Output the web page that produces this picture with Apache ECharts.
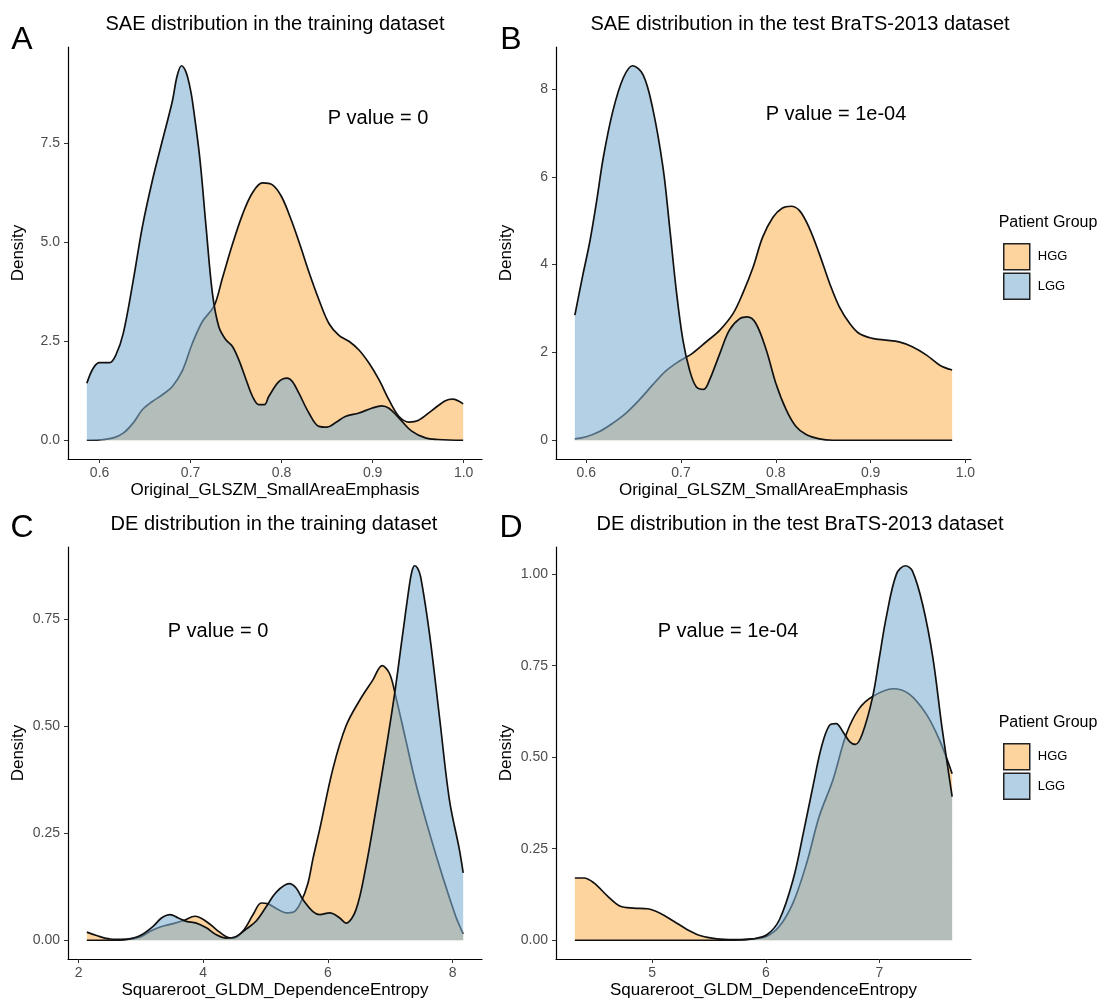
<!DOCTYPE html>
<html>
<head>
<meta charset="utf-8">
<title>SAE / DE density</title>
<script src="https://cdn.jsdelivr.net/npm/echarts@6/dist/echarts.min.js"></script>
<style>
  body { margin: 0; background: #fff; }
  #main { width: 1105px; height: 1003px; }
</style>
</head>
<body>
<div id="main"></div>
<script type="text/javascript">
// ---- data ----
// A: SAE, training dataset
var saeTrainX_HGG = [0.586, 0.600, 0.615, 0.626, 0.637, 0.647, 0.658, 0.669, 0.680, 0.691, 0.702, 0.713, 0.726, 0.735, 0.746, 0.757, 0.768, 0.779, 0.790, 0.800, 0.810, 0.820, 0.830, 0.841, 0.852, 0.863, 0.874, 0.885, 0.896, 0.907, 0.918, 0.929, 0.940, 0.950, 0.965, 0.980, 0.988, 0.9995];
var saeTrainY_HGG = [0, 0.01, 0.06, 0.18, 0.44, 0.77, 0.98, 1.15, 1.36, 1.76, 2.45, 3.00, 3.40, 4.10, 4.95, 5.70, 6.25, 6.50, 6.45, 6.15, 5.60, 4.95, 4.25, 3.55, 2.95, 2.65, 2.50, 2.28, 1.95, 1.53, 1.02, 0.60, 0.46, 0.50, 0.75, 1.00, 1.04, 0.92];
var saeTrainX_LGG = [0.586, 0.593, 0.600, 0.611, 0.618, 0.626, 0.637, 0.647, 0.658, 0.669, 0.680, 0.685, 0.690, 0.695, 0.699, 0.702, 0.710, 0.717, 0.724, 0.731, 0.739, 0.746, 0.753, 0.761, 0.768, 0.775, 0.781, 0.786, 0.797, 0.806, 0.812, 0.819, 0.830, 0.841, 0.850, 0.859, 0.870, 0.885, 0.899, 0.910, 0.918, 0.929, 0.943, 0.958, 0.972, 0.9995];
var saeTrainY_LGG = [1.44, 1.82, 1.96, 1.96, 2.16, 2.70, 4.04, 5.39, 6.56, 7.57, 8.57, 9.18, 9.46, 9.30, 8.95, 8.57, 7.15, 5.39, 3.71, 2.87, 2.53, 2.37, 2.03, 1.53, 1.11, 0.90, 0.90, 1.11, 1.48, 1.57, 1.48, 1.19, 0.69, 0.35, 0.33, 0.44, 0.60, 0.69, 0.81, 0.87, 0.81, 0.56, 0.23, 0.06, 0.02, 0];

// B: SAE, test BraTS-2013
var saeTestX_HGG = [0.588, 0.600, 0.614, 0.628, 0.642, 0.656, 0.670, 0.684, 0.698, 0.712, 0.727, 0.741, 0.755, 0.765, 0.776, 0.786, 0.797, 0.807, 0.816, 0.825, 0.835, 0.846, 0.857, 0.867, 0.878, 0.888, 0.902, 0.916, 0.930, 0.944, 0.959, 0.973, 0.986];
var saeTestY_HGG = [0.03, 0.08, 0.20, 0.39, 0.62, 0.92, 1.26, 1.58, 1.80, 1.98, 2.25, 2.51, 2.89, 3.34, 3.94, 4.62, 5.08, 5.29, 5.33, 5.23, 4.85, 4.24, 3.56, 3.04, 2.66, 2.43, 2.32, 2.28, 2.24, 2.13, 1.94, 1.71, 1.60];
var saeTestX_LGG = [0.588, 0.596, 0.604, 0.611, 0.618, 0.628, 0.639, 0.649, 0.660, 0.670, 0.681, 0.688, 0.695, 0.702, 0.709, 0.716, 0.724, 0.730, 0.741, 0.751, 0.762, 0.770, 0.779, 0.790, 0.800, 0.811, 0.821, 0.832, 0.846, 0.860, 0.920, 0.986];
var saeTestY_LGG = [2.85, 3.72, 4.55, 5.45, 6.44, 7.49, 8.25, 8.53, 8.32, 7.57, 6.21, 4.85, 3.41, 2.28, 1.60, 1.22, 1.16, 1.37, 1.98, 2.51, 2.77, 2.81, 2.66, 2.05, 1.30, 0.69, 0.32, 0.13, 0.03, 0, 0, 0];

// C: DE, training dataset
var deTrainX_HGG = [2.133, 2.29, 2.51, 2.77, 2.99, 3.15, 3.31, 3.52, 3.68, 3.87, 4.05, 4.21, 4.37, 4.48, 4.64, 4.80, 4.93, 5.04, 5.20, 5.33, 5.45, 5.57, 5.68, 5.76, 5.87, 6.08, 6.29, 6.51, 6.72, 6.87, 6.99, 7.09, 7.25, 7.41, 7.63, 7.84, 8.05, 8.17];
var deTrainY_HGG = [0.019, 0.011, 0.003, 0.002, 0.008, 0.021, 0.031, 0.039, 0.046, 0.056, 0.044, 0.025, 0.008, 0.005, 0.022, 0.060, 0.087, 0.085, 0.072, 0.064, 0.066, 0.090, 0.133, 0.190, 0.260, 0.400, 0.500, 0.560, 0.607, 0.641, 0.622, 0.568, 0.467, 0.366, 0.250, 0.149, 0.056, 0.015];
var deTrainX_LGG = [2.133, 2.50, 2.77, 2.99, 3.20, 3.33, 3.47, 3.60, 3.73, 3.89, 4.05, 4.21, 4.37, 4.53, 4.69, 4.85, 5.01, 5.17, 5.38, 5.49, 5.60, 5.76, 5.87, 6.03, 6.19, 6.29, 6.45, 6.61, 6.77, 6.93, 7.07, 7.20, 7.31, 7.35, 7.39, 7.44, 7.49, 7.63, 7.79, 7.95, 8.11, 8.17];
var deTrainY_LGG = [0, 0, 0.002, 0.011, 0.033, 0.052, 0.060, 0.052, 0.044, 0.040, 0.029, 0.013, 0.005, 0.009, 0.026, 0.045, 0.078, 0.112, 0.132, 0.122, 0.095, 0.067, 0.060, 0.064, 0.052, 0.040, 0.071, 0.172, 0.304, 0.444, 0.575, 0.715, 0.831, 0.862, 0.874, 0.868, 0.847, 0.715, 0.521, 0.327, 0.211, 0.157];

// D: DE, test BraTS-2013
var deTestX_HGG = [4.32, 4.40, 4.49, 4.61, 4.72, 4.84, 4.96, 5.07, 5.19, 5.31, 5.42, 5.57, 5.72, 5.89, 6.01, 6.12, 6.24, 6.36, 6.47, 6.59, 6.71, 6.82, 6.94, 7.12, 7.26, 7.41, 7.53, 7.64];
var deTestY_HGG = [0.170, 0.170, 0.156, 0.120, 0.093, 0.088, 0.086, 0.074, 0.052, 0.029, 0.013, 0.004, 0.002, 0.004, 0.011, 0.038, 0.102, 0.211, 0.338, 0.437, 0.564, 0.632, 0.666, 0.687, 0.673, 0.619, 0.546, 0.455];
var deTestX_LGG = [4.32, 5.00, 5.72, 5.89, 6.01, 6.12, 6.24, 6.33, 6.42, 6.49, 6.56, 6.62, 6.68, 6.74, 6.79, 6.85, 6.94, 7.00, 7.06, 7.15, 7.23, 7.29, 7.38, 7.47, 7.55, 7.64];
var deTestY_LGG = [0, 0, 0, 0.004, 0.015, 0.056, 0.165, 0.292, 0.428, 0.528, 0.587, 0.592, 0.569, 0.542, 0.535, 0.564, 0.664, 0.773, 0.882, 1.000, 1.023, 1.009, 0.918, 0.773, 0.583, 0.392];

// tick values
var saeXTicks = [0.6, 0.7, 0.8, 0.9, 1.0];
var saeTrainYTicks = [0, 2.5, 5, 7.5];
var saeTestYTicks = [0, 2, 4, 6, 8];
var deTrainXTicks = [2, 4, 6, 8];
var deTestXTicks = [5, 6, 7];
var deTrainYTicks = [0, 0.25, 0.5, 0.75];
var deTestYTicks = [0, 0.25, 0.5, 0.75, 1];

var groups = ['HGG', 'LGG'];
var pTexts = ['P value = 0', 'P value = 1e-04', 'P value = 0', 'P value = 1e-04'];

// ---- styling ----
var FONT = '"Liberation Sans", Arial, Helvetica, sans-serif';
var fillHGG = 'rgba(252,179,88,0.58)';
var fillLGG = 'rgba(126,174,209,0.58)';
var swatchHGG = '#FDD39E';
var swatchLGG = '#B4D0E4';

function pairs(xs, ys) {
    var out = [];
    for (var i = 0; i < xs.length; i++) out.push([xs[i], ys[i]]);
    return out;
}

function makeX(idx, min, max, ticks, dec, name) {
    return {
        type: 'value', gridIndex: idx, min: min, max: max,
        name: name, nameLocation: 'middle', nameGap: 23,
        nameTextStyle: { fontSize: 17, color: '#000', fontFamily: FONT },
        axisLine: { onZero: false, lineStyle: { color: '#000', width: 1.2 } },
        axisTick: { show: true, length: 4, customValues: ticks, lineStyle: { color: '#333' } },
        axisLabel: { customValues: ticks, margin: 7, fontSize: 14, color: '#4d4d4d', fontFamily: FONT,
            formatter: function (v) { return Number(v).toFixed(dec); } },
        splitLine: { show: false }
    };
}

function makeY(idx, min, max, ticks, dec) {
    return {
        type: 'value', gridIndex: idx, min: min, max: max,
        name: 'Density', nameLocation: 'middle', nameGap: 41, nameRotate: 90,
        nameTextStyle: { fontSize: 17, color: '#000', fontFamily: FONT },
        axisLine: { show: true, onZero: false, lineStyle: { color: '#000', width: 1.2 } },
        axisTick: { show: true, length: 4, customValues: ticks, lineStyle: { color: '#333' } },
        axisLabel: { customValues: ticks, margin: 8, fontSize: 14, color: '#4d4d4d', fontFamily: FONT,
            formatter: function (v) { return Number(v).toFixed(dec); } },
        splitLine: { show: false }
    };
}

// z: LGG drawn above HGG so its fill dims the HGG outline (like ggplot)
function densSeries(name, idx, xs, ys, fill, z) {
    return {
        name: name, type: 'line', xAxisIndex: idx, yAxisIndex: idx, z: z,
        data: pairs(xs, ys),
        smooth: 0.35, showSymbol: false, silent: true,
        lineStyle: { color: '#111', width: 1.7 },
        areaStyle: { color: fill, opacity: 1 }
    };
}

function txt(x, y, s, size) {
    return {
        type: 'text', x: x, y: y, silent: true,
        style: { text: s, fontSize: size, fontFamily: FONT, fill: '#000',
            textAlign: 'center', align: 'center', textVerticalAlign: 'middle', verticalAlign: 'middle' }
    };
}

function legendBlock(top) {
    return {
        orient: 'vertical', left: 998, top: top, icon: 'rect',
        itemWidth: 26, itemHeight: 26, itemGap: 2, selectedMode: false,
        textStyle: { fontSize: 13, color: '#000', fontFamily: FONT, padding: [0, 0, 0, 3] },
        data: [
            { name: groups[0], itemStyle: { color: swatchHGG, borderColor: '#222', borderWidth: 1.5 } },
            { name: groups[1], itemStyle: { color: swatchLGG, borderColor: '#222', borderWidth: 1.5 } }
        ]
    };
}

var myChart = echarts.init(document.getElementById('main'), null, { renderer: 'canvas' });

var option = {
    backgroundColor: '#fff',
    animation: false,
    grid: [
        { left: 68, top: 47, width: 414, height: 412 },
        { left: 556, top: 47, width: 415, height: 412 },
        { left: 68, top: 547, width: 414, height: 412 },
        { left: 556, top: 547, width: 415, height: 412 }
    ],
    xAxis: [
        makeX(0, 0.5653, 1.0202, saeXTicks, 1, 'Original_GLSZM_SmallAreaEmphasis'),
        makeX(1, 0.5681, 1.0059, saeXTicks, 1, 'Original_GLSZM_SmallAreaEmphasis'),
        makeX(2, 1.831, 8.472, deTrainXTicks, 0, 'Squareroot_GLDM_DependenceEntropy'),
        makeX(3, 4.154, 7.806, deTestXTicks, 0, 'Squareroot_GLDM_DependenceEntropy')
    ],
    yAxis: [
        makeY(0, -0.473, 9.933, saeTrainYTicks, 1),
        makeY(1, -0.4265, 8.9565, saeTestYTicks, 0),
        makeY(2, -0.0437, 0.9177, deTrainYTicks, 2),
        makeY(3, -0.0512, 1.0742, deTestYTicks, 2)
    ],
    legend: [legendBlock(238), legendBlock(738)],
    series: [
        densSeries('HGG', 0, saeTrainX_HGG, saeTrainY_HGG, fillHGG, 2),
        densSeries('LGG', 0, saeTrainX_LGG, saeTrainY_LGG, fillLGG, 3),
        densSeries('HGG', 1, saeTestX_HGG, saeTestY_HGG, fillHGG, 2),
        densSeries('LGG', 1, saeTestX_LGG, saeTestY_LGG, fillLGG, 3),
        densSeries('HGG', 2, deTrainX_HGG, deTrainY_HGG, fillHGG, 2),
        densSeries('LGG', 2, deTrainX_LGG, deTrainY_LGG, fillLGG, 3),
        densSeries('HGG', 3, deTestX_HGG, deTestY_HGG, fillHGG, 2),
        densSeries('LGG', 3, deTestX_LGG, deTestY_LGG, fillLGG, 3)
    ],
    graphic: [
        // panel letters
        txt(22, 40, 'A', 32), txt(511, 40, 'B', 32),
        txt(22, 528, 'C', 32), txt(511, 528, 'D', 32),
        // panel titles
        txt(275, 24, 'SAE distribution in the training dataset', 20),
        txt(800, 24, 'SAE distribution in the test BraTS-2013 dataset', 20),
        txt(274, 524, 'DE distribution in the training dataset', 20),
        txt(800, 524, 'DE distribution in the test BraTS-2013 dataset', 20),
        // p values
        txt(378, 118, pTexts[0], 20),
        txt(836, 114, pTexts[1], 20),
        txt(218, 631, pTexts[2], 20),
        txt(728, 631, pTexts[3], 20),
        // legend titles
        txt(1048, 223, 'Patient Group', 16),
        txt(1048, 723, 'Patient Group', 16)
    ]
};

myChart.setOption(option);
</script>
</body>
</html>
